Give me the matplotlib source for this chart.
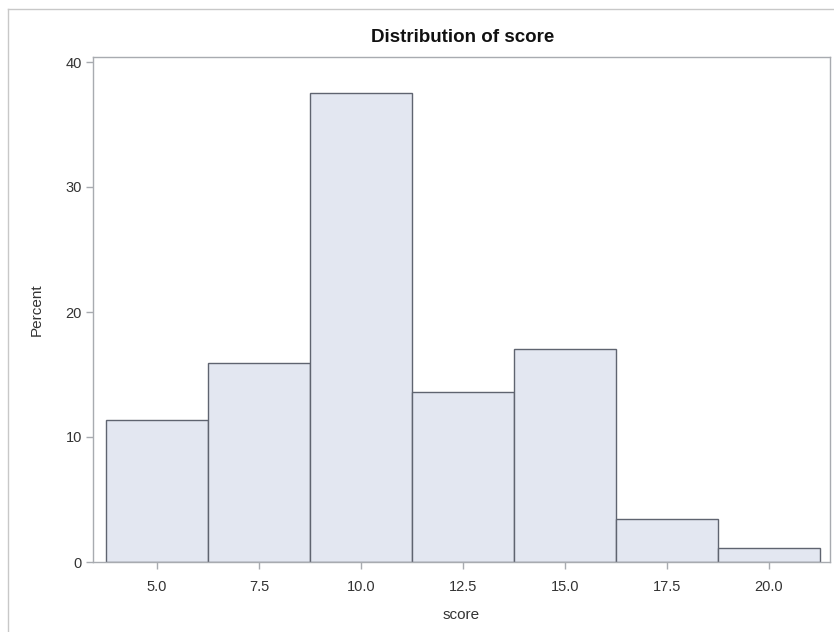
import matplotlib
matplotlib.use("Agg")
import matplotlib.pyplot as plt
from matplotlib.lines import Line2D

plt.rcParams['font.family'] = ['Liberation Sans', 'DejaVu Sans']

# histogram of score: bin midpoints and percent per bin
bin_mid = [5.0, 7.5, 10.0, 12.5, 15.0, 17.5, 20.0]
percent = [11.36, 15.91, 37.50, 13.64, 17.05, 3.41, 1.14]
bin_width = 2.5
x_ticks = [5.0, 7.5, 10.0, 12.5, 15.0, 17.5, 20.0]
y_ticks = [0, 10, 20, 30, 40]

W, H = 834, 632
fig = plt.figure(figsize=(W / 100, H / 100), dpi=100)

# outer frame (SAS graph border)
fig.add_artist(Line2D([8 / W, 8 / W], [0, 1 - 9 / H], color='#c8c8c8', lw=1))
fig.add_artist(Line2D([8 / W, 1], [1 - 9 / H, 1 - 9 / H], color='#c8c8c8', lw=1))

ax = fig.add_axes([93 / W, 70 / H, (830 - 93) / W, (562 - 57) / H])
ax.bar(bin_mid, percent, width=bin_width, color='#e3e7f1',
       edgecolor='#5f6470', linewidth=1)

ax.set_xlim(3.43, 21.5)
ax.set_ylim(0, 40.4)
ax.set_xticks(x_ticks)
ax.set_xticklabels(['%.1f' % t for t in x_ticks])
ax.set_yticks(y_ticks)

for s in ax.spines.values():
    s.set_color('#a8abb0')
    s.set_linewidth(1)

ax.tick_params(axis='both', direction='out', length=5, width=1, color='#a8abb0',
               labelsize=10.5, labelcolor='#333333', pad=3)
ax.tick_params(axis='x', pad=8)

ax.set_xlabel('score', fontsize=11, color='#333333', labelpad=10)
ax.set_ylabel('Percent', fontsize=11, color='#333333', labelpad=16)
fig.text(463 / W, 1 - 37 / H, 'Distribution of score', ha='center', va='center',
         fontsize=13.5, fontweight='bold', color='#111111')

fig.savefig('out.png', dpi=100)
